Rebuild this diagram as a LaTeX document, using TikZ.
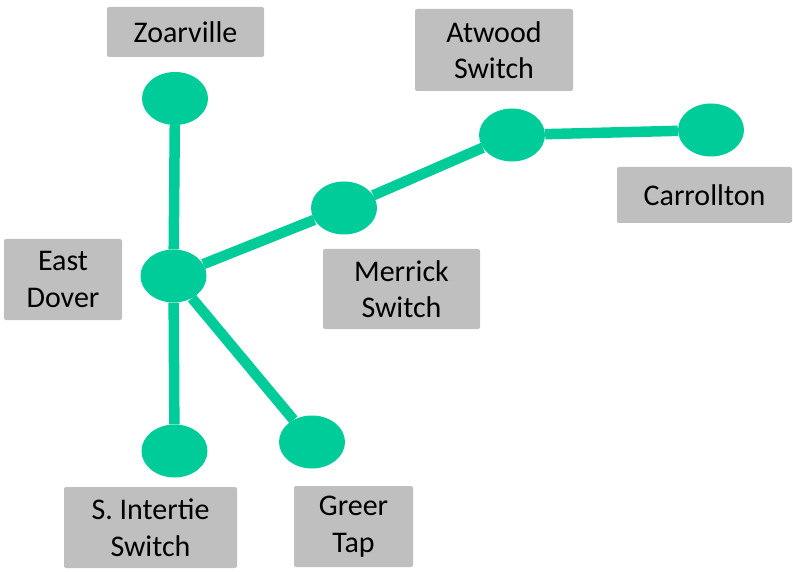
\documentclass[tikz,border=0pt]{standalone}
\usepackage{fontspec}
\setmainfont{Carlito}
\usetikzlibrary{shapes.geometric}
\definecolor{nodegreen}{HTML}{00CC99}
\definecolor{boxgray}{HTML}{BFBFBF}
\begin{document}
\begin{tikzpicture}[x=1pt,y=-1pt,
  station/.style={ellipse,fill=nodegreen,minimum width=66pt,minimum height=53pt,inner sep=0pt},
  tag/.style={fill=boxgray,rounded corners=2pt,align=center,inner sep=0pt,
    font=\fontsize{30}{36.6}\selectfont,text=black},
  link/.style={draw=nodegreen,line width=10.5pt}]
\useasboundingbox (0,0) rectangle (793,572);
% stations
\node[station] (zo) at (175,98.5) {};
\node[station] (ed) at (173.5,276) {};
\node[station] (si) at (174.5,451) {};
\node[station] (gt) at (312,442) {};
\node[station] (ms) at (344,208) {};
\node[station] (aw) at (512,135) {};
\node[station] (ca) at (711,130) {};
% labels
\node[tag,minimum width=157pt,minimum height=50pt] (lzo) at (185.5,32) {\raisebox{-2pt}{Zoarville}};
\node[tag,minimum width=158pt,minimum height=82pt] (law) at (494,50) {\raisebox{-2pt}{Atwood}\\\raisebox{-2pt}{Switch}};
\node[tag,minimum width=175pt,minimum height=56pt] (lca) at (704.5,195) {\raisebox{-2pt}{Carrollton}};
\node[tag,minimum width=118pt,minimum height=81pt] (led) at (63,279.5) {\raisebox{-2pt}{East}\\\raisebox{-2pt}{Dover}};
\node[tag,minimum width=157pt,minimum height=80pt] (lms) at (401.5,289) {\raisebox{-2pt}{Merrick}\\\raisebox{-2pt}{Switch}};
\node[tag,minimum width=173pt,minimum height=81pt] (lsi) at (150.5,527.5) {\raisebox{-2pt}{S. Intertie}\\\raisebox{-2pt}{Switch}};
\node[tag,minimum width=119pt,minimum height=81pt] (lgt) at (353.5,526.5) {\raisebox{-2pt}{Greer}\\\raisebox{-2pt}{Tap}};
% links
\draw[link] (zo) -- (ed);
\draw[link] (ed) -- (si);
\draw[link] (ed) -- (gt);
\draw[link] (ed) -- (ms);
\draw[link] (ms) -- (aw);
\draw[link] (aw) -- (ca);
\end{tikzpicture}
\end{document}
